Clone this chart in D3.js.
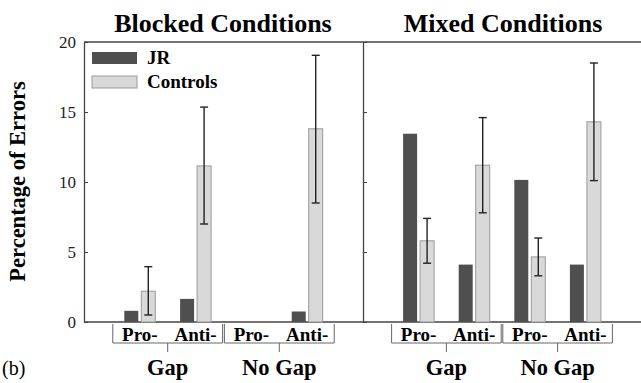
<!DOCTYPE html>
<html lang="en">
  <head>
    <meta charset="UTF-8" />
    <script src="https://cdn.jsdelivr.net/npm/d3@7/dist/d3.min.js"></script>
    <style>
      body {
        margin: 0;
        background: #fff;
      }
    </style>
  </head>
  <body>
    <div class="canvas"></div>
    <script>
      // data
      const panels = ["Blocked Conditions", "Mixed Conditions"];
      const conditions = ["Gap", "No Gap"];
      const saccades = ["Pro-", "Anti-"];
      // order: Gap Pro-, Gap Anti-, No Gap Pro-, No Gap Anti-
      const jrBlocked = [0.8, 1.65, 0, 0.75];
      const ctrlBlocked = [2.2, 11.15, 0, 13.8];
      const ctrlBlockedLo = [0.5, 7.0, 0, 8.5];
      const ctrlBlockedHi = [3.95, 15.35, 0, 19.05];
      const jrMixed = [13.45, 4.1, 10.15, 4.1];
      const ctrlMixed = [5.8, 11.2, 4.65, 14.3];
      const ctrlMixedLo = [4.2, 7.8, 3.3, 10.1];
      const ctrlMixedHi = [7.4, 14.6, 6.0, 18.5];
      const yTicks = [0, 5, 10, 15, 20];

      const W = 641,
        H = 383;
      const FONT = "Liberation Serif";
      const panelEdges = [
        [84, 363],
        [363, 641],
      ];
      const axisColor = "#444";
      const jrColor = "#4f4f4f";
      const ctrlColor = "#d9d9d9";
      const ctrlStroke = "#999";

      const svg = d3
        .select(".canvas")
        .append("svg")
        .attr("width", W)
        .attr("height", H)
        .attr("font-family", FONT);

      const y = d3.scaleLinear().domain([0, 20]).range([322, 42]);

      const cats = [];
      conditions.forEach((c) => saccades.forEach((s) => cats.push(c + "|" + s)));

      const panelData = [
        { jr: jrBlocked, ctrl: ctrlBlocked, lo: ctrlBlockedLo, hi: ctrlBlockedHi },
        { jr: jrMixed, ctrl: ctrlMixed, lo: ctrlMixedLo, hi: ctrlMixedHi },
      ];

      function label(sel, size, bold) {
        return sel
          .attr("font-family", FONT)
          .attr("font-size", size)
          .attr("font-weight", bold ? "bold" : "normal")
          .attr("fill", "#000");
      }

      // frame: top and bottom lines
      [20, 0].forEach((v) => {
        svg
          .append("line")
          .attr("x1", 84)
          .attr("x2", W)
          .attr("y1", y(v))
          .attr("y2", y(v))
          .attr("stroke", axisColor)
          .attr("stroke-width", 1.3);
      });

      panels.forEach((title, p) => {
        const [x0, x1] = panelEdges[p];
        const x = d3.scalePoint().domain(cats).range([x0, x1]).padding(1);
        const d = panelData[p];

        // vertical axis with inward ticks
        const axis = d3
          .axisLeft(y)
          .tickValues(yTicks)
          .tickSizeInner(-4)
          .tickSizeOuter(0)
          .tickPadding(8);
        if (p > 0) axis.tickFormat("");
        const ax = svg
          .append("g")
          .attr("transform", `translate(${x0},0)`)
          .call(axis)
          .attr("font-family", FONT)
          .attr("font-size", 17);
        ax.select(".domain").attr("stroke", axisColor).attr("stroke-width", 1.3);
        ax.selectAll(".tick line").attr("stroke", axisColor);
        label(ax.selectAll(".tick text"), 17, false).attr("fill", "#222");

        // panel title
        label(svg.append("text"), 26, true)
          .attr("x", p === 0 ? 223 : 503)
          .attr("y", 32)
          .attr("text-anchor", "middle")
          .text(title);

        // bars
        const g = svg.append("g");
        g.selectAll(".jr")
          .data(cats)
          .join("rect")
          .attr("x", (c) => x(c) - 15.5)
          .attr("width", 14)
          .attr("y", (c, i) => y(d.jr[i]))
          .attr("height", (c, i) => y(0) - y(d.jr[i]))
          .attr("fill", jrColor);
        g.selectAll(".ctrl")
          .data(cats)
          .join("rect")
          .attr("x", (c) => x(c) + 1.5)
          .attr("width", 14)
          .attr("y", (c, i) => y(d.ctrl[i]))
          .attr("height", (c, i) => y(0) - y(d.ctrl[i]))
          .attr("fill", ctrlColor)
          .attr("stroke", ctrlStroke)
          .attr("stroke-width", (c, i) => (d.ctrl[i] > 0 ? 1 : 0));

        // error bars
        const eb = g
          .selectAll(".err")
          .data(cats.filter((c, i) => d.ctrl[i] > 0))
          .join("g")
          .attr("stroke", "#222")
          .attr("stroke-width", 1.4);
        eb.append("line")
          .attr("x1", (c) => x(c) + 8.5)
          .attr("x2", (c) => x(c) + 8.5)
          .attr("y1", (c) => y(d.lo[cats.indexOf(c)]))
          .attr("y2", (c) => y(d.hi[cats.indexOf(c)]));
        ["lo", "hi"].forEach((k) => {
          eb.append("line")
            .attr("x1", (c) => x(c) + 4.5)
            .attr("x2", (c) => x(c) + 12.5)
            .attr("y1", (c) => y(d[k][cats.indexOf(c)]))
            .attr("y2", (c) => y(d[k][cats.indexOf(c)]));
        });

        // saccade labels
        label(
          svg.append("g").selectAll("text").data(cats).join("text"),
          19,
          true
        )
          .attr("x", (c) => x(c))
          .attr("y", 341)
          .attr("text-anchor", "middle")
          .text((c) => c.split("|")[1]);

        // condition brackets
        conditions.forEach((cond) => {
          const xa = x(cond + "|" + saccades[0]) - 27;
          const xb = x(cond + "|" + saccades[1]) + 27;
          const xm = (xa + xb) / 2;
          svg
            .append("path")
            .attr("d", `M${xa},324V343H${xb}V324M${xm},343V352`)
            .attr("fill", "none")
            .attr("stroke", "#666")
            .attr("stroke-width", 1);
          label(svg.append("text"), 22.5, true)
            .attr("x", xm)
            .attr("y", 375)
            .attr("text-anchor", "middle")
            .text(cond);
        });
      });

      // legend
      const legendItems = [
        { name: "JR", fill: jrColor, stroke: "none" },
        { name: "Controls", fill: ctrlColor, stroke: ctrlStroke },
      ];
      const legend = svg
        .selectAll(".legend")
        .data(legendItems)
        .join("g")
        .attr("transform", (d, i) => `translate(92,${52 + i * 24})`);
      legend
        .append("rect")
        .attr("width", 45)
        .attr("height", 12)
        .attr("fill", (d) => d.fill)
        .attr("stroke", (d) => d.stroke);
      label(legend.append("text"), 19, true)
        .attr("x", 55)
        .attr("y", 12)
        .text((d) => d.name);

      // y title
      label(svg.append("text"), 22.5, true)
        .attr("transform", "translate(25,181.5) rotate(-90)")
        .attr("text-anchor", "middle")
        .text("Percentage of Errors");

      label(svg.append("text"), 20, false)
        .attr("x", 2)
        .attr("y", 375)
        .text("(b)");
    </script>
  </body>
</html>
